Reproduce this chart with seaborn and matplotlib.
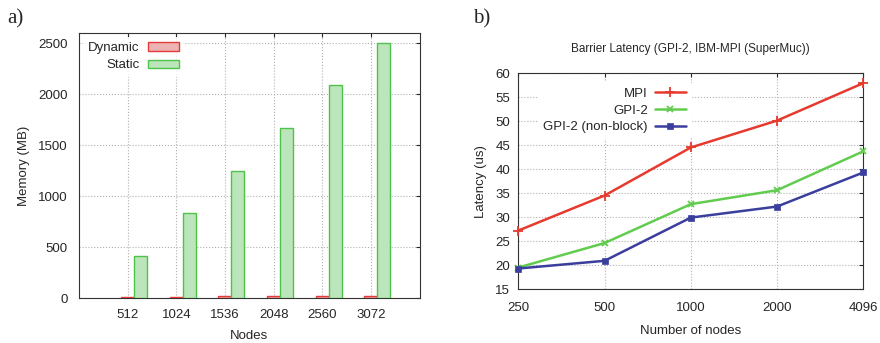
import matplotlib
matplotlib.use("Agg")
import matplotlib.pyplot as plt
import pandas as pd
import seaborn as sns

# panel a) memory usage
nodes_a = [512, 1024, 1536, 2048, 2560, 3072]
dynamic_mb = [15, 15, 20, 20, 20, 20]
static_mb = [415, 830, 1250, 1665, 2085, 2505]

# panel b) barrier latency
nodes_b = ["250", "500", "1000", "2000", "4096"]
mpi_us = [27.2, 34.5, 44.5, 50.1, 57.9]
gpi2_us = [19.5, 24.6, 32.7, 35.6, 43.7]
gpi2_nb_us = [19.3, 20.9, 29.9, 32.2, 39.3]

sns.set_style("white")
plt.rcParams["font.family"] = ["Liberation Sans", "DejaVu Sans"]
plt.rcParams["font.size"] = 9

fig = plt.figure(figsize=(8.8, 3.43), dpi=100)
ax1 = fig.add_axes([0.0898, 0.131, 0.387, 0.773])
ax2 = fig.add_axes([0.589, 0.157, 0.392, 0.630])

grid_kw = dict(color="#b0b0b0", linestyle=":", linewidth=0.8)

# ---- a) bars
mem = pd.DataFrame({
    "Nodes": nodes_a * 2,
    "Memory": dynamic_mb + static_mb,
    "Type": ["Dynamic"] * len(nodes_a) + ["Static"] * len(nodes_a),
})
sns.barplot(data=mem, x="Nodes", y="Memory", hue="Type", native_scale=True,
            palette={"Dynamic": "#f7a9a9", "Static": "#b6ecb4"},
            width=0.535, dodge=True, ax=ax1, linewidth=1, zorder=3)
edges = {"Dynamic": "#e53a3a", "Static": "#4dc34a"}
for cont, name in zip(ax1.containers, ["Dynamic", "Static"]):
    for p in cont:
        p.set_edgecolor(edges[name])
        p.set_x(p.get_x() + 68)  # gnuplot puts first bar on the tick
ax1.set_xlim(0, 3584)
ax1.set_ylim(0, 2600)
ax1.set_xticks(nodes_a)
ax1.set_yticks([0, 500, 1000, 1500, 2000, 2500])
ax1.grid(True, **grid_kw)
ax1.set_axisbelow(True)
ax1.set_xlabel("Nodes", fontsize=9.5, labelpad=6)
ax1.set_ylabel("Memory (MB)", fontsize=9.5, labelpad=6)
ax1.tick_params(direction="in", length=3, labelsize=9.5, pad=8,
                top=True, right=True)
leg1 = ax1.legend(loc="upper left", markerfirst=False, frameon=True,
                  handlelength=2.4, handleheight=0.6, fontsize=9.5,
                  borderaxespad=0.3, labelspacing=0.4, handletextpad=0.6)
leg1.get_frame().set_edgecolor("none")
for h, name in zip(leg1.legend_handles, ["Dynamic", "Static"]):
    h.set_edgecolor(edges[name])
    h.set_linewidth(1)
for s in ax1.spines.values():
    s.set_color("#333333")

# ---- b) lines
x_pos = list(range(len(nodes_b)))
series = [
    ("MPI", mpi_us, "#e63a2e", "+", 7),
    ("GPI-2", gpi2_us, "#62cc4e", "x", 4.5),
    ("GPI-2 (non-block)", gpi2_nb_us, "#3a3f9e", "s", 4.5),
]
for label, vals, col, mk, ms in series:
    sns.lineplot(x=x_pos, y=vals, color=col, marker=mk, markersize=ms,
                 markeredgecolor=col, markerfacecolor=col,
                 markeredgewidth=1.3 if mk != "s" else 0.5,
                 linewidth=1.8, label=label, ax=ax2, clip_on=False, zorder=4)
ax2.set_xlim(0, 4)
ax2.set_ylim(15, 60)
ax2.set_xticks(x_pos)
ax2.set_xticklabels(nodes_b)
ax2.set_yticks(range(15, 61, 5))
ax2.grid(True, **grid_kw)
ax2.set_axisbelow(True)
ax2.set_xlabel("Number of nodes", fontsize=9.5, labelpad=8)
ax2.set_ylabel("Latency (us)", fontsize=9.5, labelpad=6)
ax2.set_title("Barrier Latency (GPI-2, IBM-MPI (SuperMuc))", fontsize=8.5, pad=15)
ax2.tick_params(direction="in", length=3, labelsize=9.5, pad=9,
                top=True, right=True)
ax2.tick_params(axis="y", pad=6)
leg2 = ax2.legend(loc="upper left", bbox_to_anchor=(0.05, 0.97), markerfirst=False,
                  frameon=True, handlelength=2.4, fontsize=9.5,
                  borderaxespad=0.2, labelspacing=0.35, handletextpad=0.5)
leg2.get_frame().set_edgecolor("none")
leg2.get_frame().set_alpha(1)
leg2.set_zorder(3)
for s in ax2.spines.values():
    s.set_color("#333333")

fig.text(0.008, 0.945, "a)", family="Liberation Serif", fontsize=15, va="center")
fig.text(0.538, 0.945, "b)", family="Liberation Serif", fontsize=15, va="center")

fig.savefig("out.png", dpi=100)
